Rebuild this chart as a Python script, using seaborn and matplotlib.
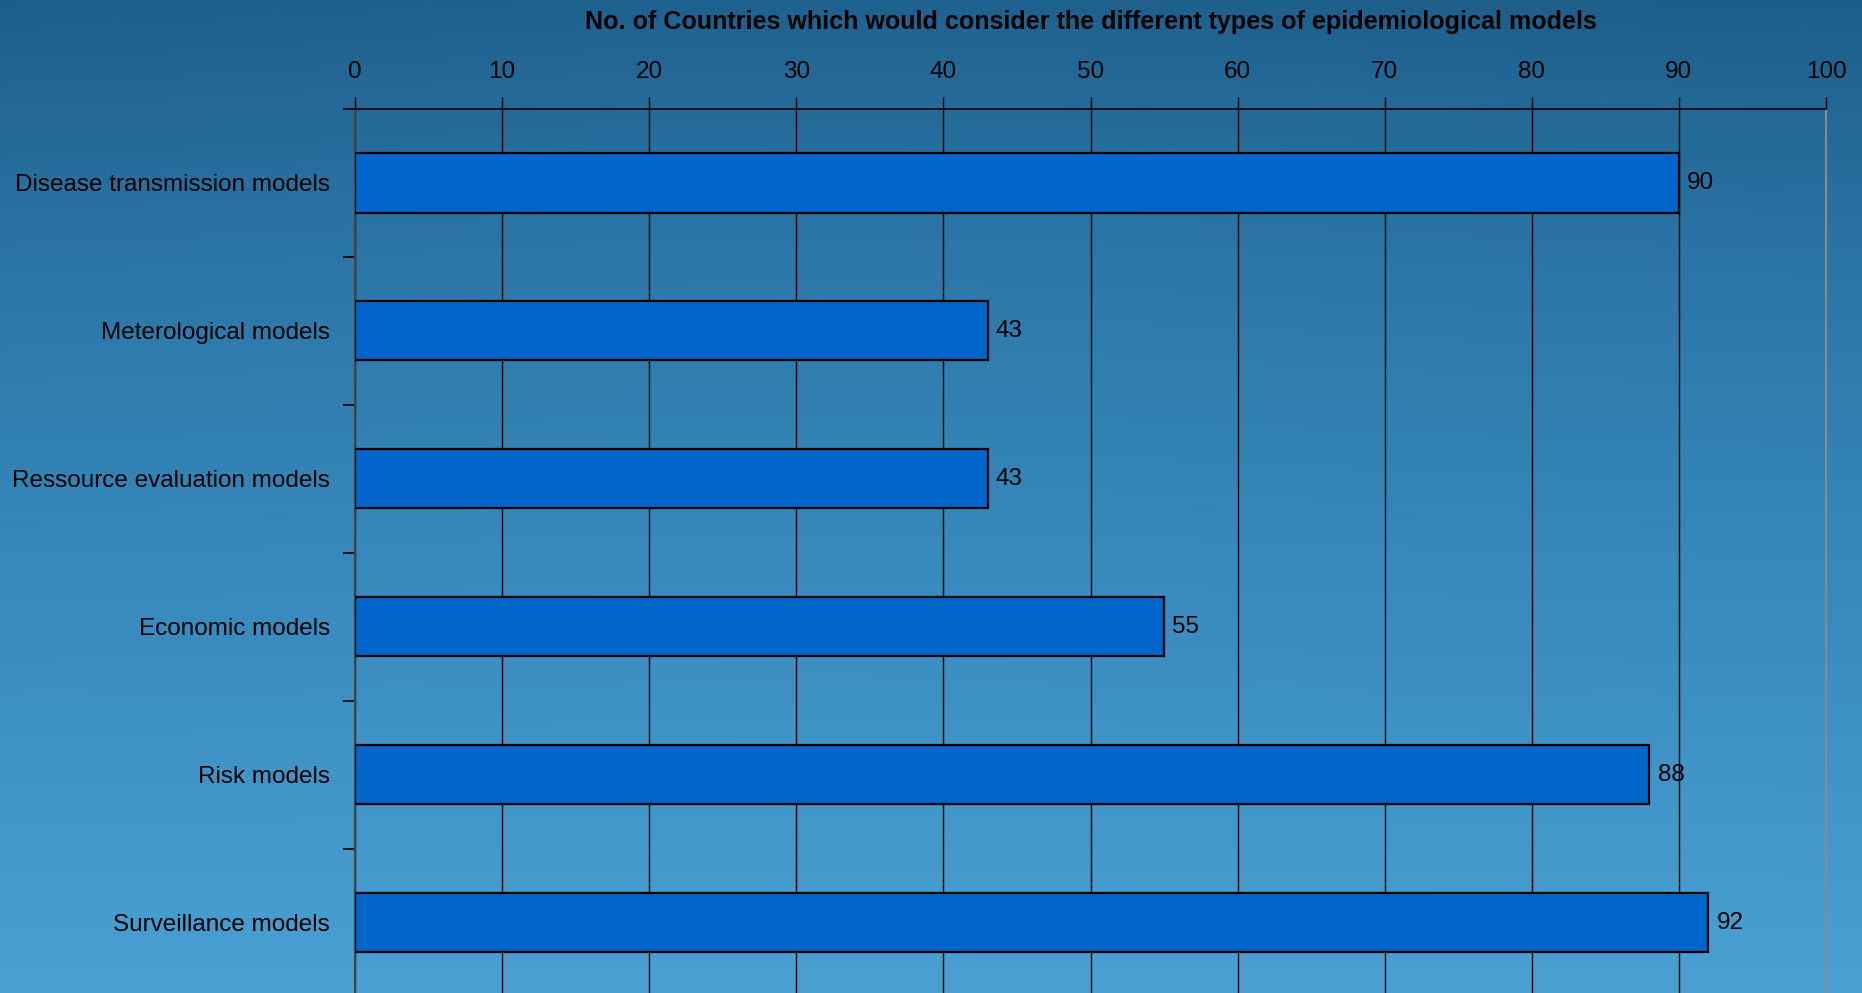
import numpy as np
import pandas as pd
import matplotlib
matplotlib.use("Agg")
import matplotlib.pyplot as plt
from matplotlib.colors import LinearSegmentedColormap
import seaborn as sns

# Survey results: number of countries that would consider each model type
categories = [
    "Disease transmission models",
    "Meterological models",
    "Ressource evaluation models",
    "Economic models",
    "Risk models",
    "Surveillance models",
]
countries = [90, 43, 43, 55, 88, 92]
x_ticks = [0, 10, 20, 30, 40, 50, 60, 70, 80, 90, 100]
title = "No. of Countries which would consider the different types of epidemiological models"

df = pd.DataFrame({"model": categories, "countries": countries})

sns.set_theme(style="white")
plt.rcParams["font.family"] = ["Liberation Sans", "DejaVu Sans"]

W, H, DPI = 18.62, 9.93, 100
fig = plt.figure(figsize=(W, H), dpi=DPI)

# Blue gradient backdrop: dark at the top, lighter toward the bottom
bg = fig.add_axes([0, 0, 1, 1], zorder=-10)
ny, nx = 200, 300
yy, xx = np.mgrid[0:1:ny * 1j, 0:1:nx * 1j]
t = yy ** 0.9 + 0.06 * np.exp(-((xx - 0.45) / 0.35) ** 2) * (1 - yy)
t = np.clip(t, 0, 1)
cmap = LinearSegmentedColormap.from_list(
    "bgblue", ["#1d5d89", "#2c77a8", "#3a8cc0", "#4aa0d3"])
bg.imshow(t, cmap=cmap, aspect="auto", extent=[0, 1, 1, 0], vmin=0, vmax=1,
          interpolation="bilinear")
bg.set_axis_off()

ax = fig.add_axes([355 / 1862, (993 - 996.5) / 993,
                   (1826 - 355) / 1862, (996.5 - 109) / 993])
ax.patch.set_alpha(0)

sns.barplot(data=df, x="countries", y="model", orient="h", ax=ax,
            color="#0066cc", saturation=1, width=0.4,
            edgecolor="black", linewidth=1.6, zorder=3)

ax.set_xlim(0, 100)
ax.set_ylim(5.5, -0.5)
ax.set_xticks(x_ticks)
ax.xaxis.tick_top()
ax.tick_params(axis="x", which="major", direction="out", length=9, width=1,
               color="black", labelsize=17.5, labelcolor="black", pad=10)
ax.set_xlabel("")
ax.set_ylabel("")

# Category labels centred on bars, tick marks at category boundaries
ax.tick_params(axis="y", which="major", length=0, labelsize=17.5,
               labelcolor="black", pad=18)
ax.set_yticks(np.arange(-0.5, len(categories) + 0.5, 1.0), minor=True)
ax.tick_params(axis="y", which="minor", direction="out", length=9, width=1.2,
               color="black", left=True)

ax.xaxis.grid(True, color="black", linewidth=1)
ax.yaxis.grid(False)
ax.set_axisbelow(True)

ax.spines["top"].set_color("black")
ax.spines["top"].set_linewidth(1.2)
ax.spines["left"].set_color("#444444")
ax.spines["left"].set_linewidth(1.5)
ax.spines["right"].set_color("#8a8a8a")
ax.spines["right"].set_linewidth(1.5)
ax.spines["bottom"].set_visible(False)

for i, v in enumerate(countries):
    ax.annotate(f"{v}", xy=(v, i), xytext=(6, 0), textcoords="offset points",
                ha="left", va="center", fontsize=17.5, color="black")

fig.text((584 + 1598) / 2 / 1862, 1 - 22 / 993, title, ha="center",
         va="center", fontsize=18.1, fontweight="bold", color="black")

fig.savefig("out.png", dpi=DPI)
